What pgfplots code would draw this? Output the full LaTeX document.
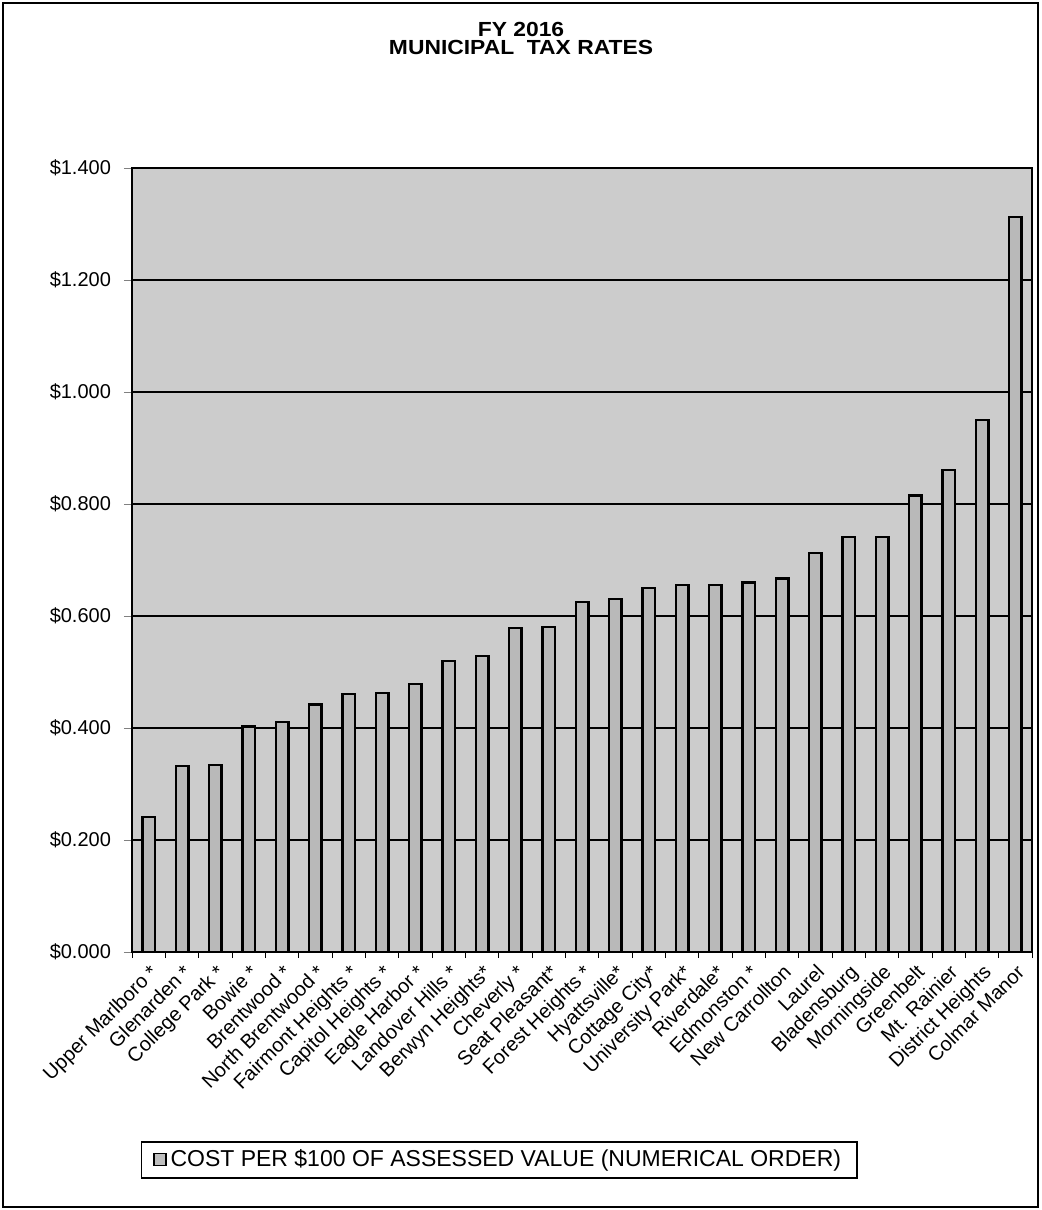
\documentclass[border=0pt]{standalone}
\usepackage{pgfplots}
\pgfplotsset{compat=1.18}
\usepackage{graphicx}
\usepackage{fontspec}
\setmainfont{Liberation Sans}
\begin{document}
\begin{tikzpicture}
\useasboundingbox (0,0) rectangle (520.5pt,-605pt);
\draw[line width=0.8pt] (1.5pt,-1.5pt) rectangle (519pt,-603.5pt);
\node[font=\bfseries\fontsize{10.2}{9}\selectfont, align=center] at (260.5pt,-19.2pt) {\scalebox{1.12}[1]{FY 2016}\\\scalebox{1.12}[1]{MUNICIPAL\ \ TAX RATES}};
\begin{axis}[
  at={(66pt,-476pt)}, anchor=south west,
  scale only axis, width=450pt, height=392pt,
  xmin=0.5, xmax=27.5, ymin=0, ymax=1.4,
  axis background/.style={fill=gray!40},
  axis line style={black, line width=0.8pt},
  ytick={0,0.2,0.4,0.6,0.8,1.0,1.2,1.4},
  yticklabels={\$0.000,\$0.200,\$0.400,\$0.600,\$0.800,\$1.000,\$1.200,\$1.400},
  ytick pos=left, tick align=outside,
  major tick length=4pt,
  ymajorgrids, grid style={black, line width=0.8pt},
  xtick={1,...,27},
  major x tick style={draw=none},
  minor xtick={0.5,1.5,...,27.5},
  minor x tick style={black, line width=0.5pt},
  minor tick length=3pt,
  xtick pos=left,
  y tick label style={font=\fontsize{10}{12}\selectfont, xshift=-3pt},
  x tick label style={font=\fontsize{10}{12}\selectfont, rotate=45, anchor=north east, inner sep=1pt},
  xticklabels={Upper Marlboro *,Glenarden *,College Park *,Bowie *,Brentwood *,North Brentwood *,Fairmont Heights *,Capitol Heights *,Eagle Harbor *,Landover Hills *,Berwyn Heights*,Cheverly *,Seat Pleasant*,Forest Heights *,Hyattsville*,Cottage City*,University Park*,Riverdale*,Edmonston *,New Carrollton,Laurel,Bladensburg,Morningside,Greenbelt,Mt. Rainier,District Heights,Colmar Manor},
  legend style={at={(0.408,-0.265)}, anchor=center, draw=black, line width=0.8pt,
    font=\fontsize{11.5}{13}\selectfont, inner xsep=6pt, inner ysep=2pt},
  legend image code/.code={\draw[fill=gray!50, draw=black, line width=0.6pt] (0pt,-3pt) rectangle (6pt,3pt);},
]
\addplot[ybar, bar width=6.3pt, fill=gray!55, draw=black, line width=1.2pt] coordinates {
(1,0.241) (2,0.332) (3,0.334) (4,0.403) (5,0.411) (6,0.442) (7,0.461) (8,0.463) (9,0.479)
(10,0.520) (11,0.529) (12,0.579) (13,0.580) (14,0.625) (15,0.630) (16,0.650) (17,0.655)
(18,0.655) (19,0.660) (20,0.667) (21,0.712) (22,0.741) (23,0.741) (24,0.815) (25,0.861)
(26,0.950) (27,1.313)};
\addlegendentry{COST PER \$100 OF ASSESSED VALUE (NUMERICAL ORDER)}
\end{axis}
\end{tikzpicture}
\end{document}
